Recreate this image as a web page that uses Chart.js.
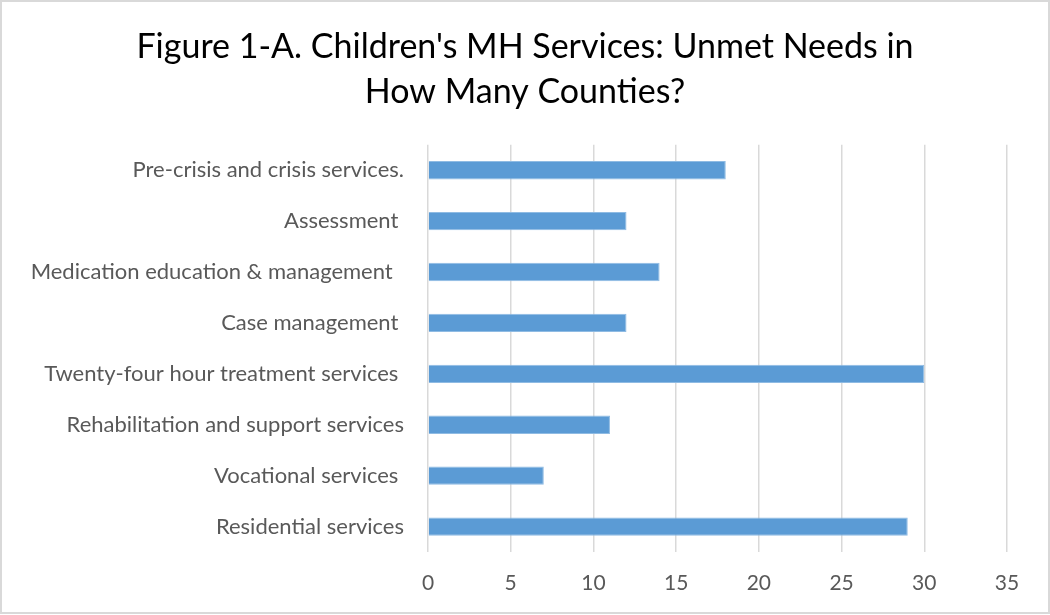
<!DOCTYPE html>
<html lang="en">
<head>
    <meta charset="UTF-8">
    <title>Children's MH Services: Unmet Needs</title>
    <script src="https://cdn.jsdelivr.net/npm/chart.js"></script>
    <style>
        body { margin: 0; background: #fff; }
        .chart-box { width: 1050px; height: 614px; box-sizing: border-box; border: 2px solid #d9d9d9; position: relative; }
        .chart-box canvas { position: absolute; left: -2px; top: -2px; }
    </style>
</head>
<body>
    <div class="chart-box">
        <canvas id="needsChart" width="1050" height="615"></canvas>
    </div>

    <script>
    // Service categories (trailing spaces kept as in the source sheet)
    const categories = [
      'Pre-crisis and crisis services.',
      'Assessment ',
      'Medication education & management  ',
      'Case management ',
      'Twenty-four hour treatment services ',
      'Rehabilitation and support services',
      'Vocational services ',
      'Residential services'
    ];
    // Number of counties reporting an unmet need
    const counties = [18, 12, 14, 12, 30, 11, 7, 29];
    const xTicks = [0, 5, 10, 15, 20, 25, 30, 35];
    const titleLines = ["Figure 1-A. Children's MH Services: Unmet Needs in", 'How Many Counties?'];

    const fontFamily = 'Lato, "Open Sans", sans-serif';

    // centre the title across the whole canvas, not just the padded box
    const fullWidthTitle = {
      id: 'fullWidthTitle',
      afterLayout(chart) {
        const t = chart.titleBlock;
        if (t) { t.left = 0; t.right = chart.width; t.width = chart.width; }
      }
    };

    new Chart(document.getElementById('needsChart'), {
      type: 'bar',
      data: {
        labels: categories,
        datasets: [{
          label: 'Counties',
          data: counties,
          backgroundColor: '#5b9bd5',
          borderColor: '#8fbbe3',
          borderWidth: 1,
          categoryPercentage: 1,
          barPercentage: 0.36
        }]
      },
      options: {
        indexAxis: 'y',
        responsive: false,
        animation: false,
        layout: { padding: { left: 0, right: 43, top: 0, bottom: 12 } },
        plugins: {
          legend: { display: false },
          tooltip: { enabled: false },
          title: {
            display: true,
            text: titleLines,
            color: '#000',
            font: { family: fontFamily, size: 34, weight: 'normal', lineHeight: 1.32 },
            padding: { top: 25, bottom: 30 }
          }
        },
        scales: {
          x: {
            min: 0,
            max: 35,
            afterBuildTicks: scale => { scale.ticks = xTicks.map(v => ({ value: v })); },
            afterFit: scale => { scale.height = 51; },
            grid: { color: '#d9d9d9', lineWidth: 1.5, drawTicks: false },
            border: { display: false },
            ticks: { color: '#595959', padding: 19, font: { family: fontFamily, size: 21 } }
          },
          y: {
            afterFit: scale => { scale.width = 428; },
            grid: { display: false },
            border: { display: false },
            ticks: { color: '#595959', padding: 16, font: { family: fontFamily, size: 22 } }
          }
        }
      },
      plugins: [fullWidthTitle]
    });
    </script>
</body>
</html>
